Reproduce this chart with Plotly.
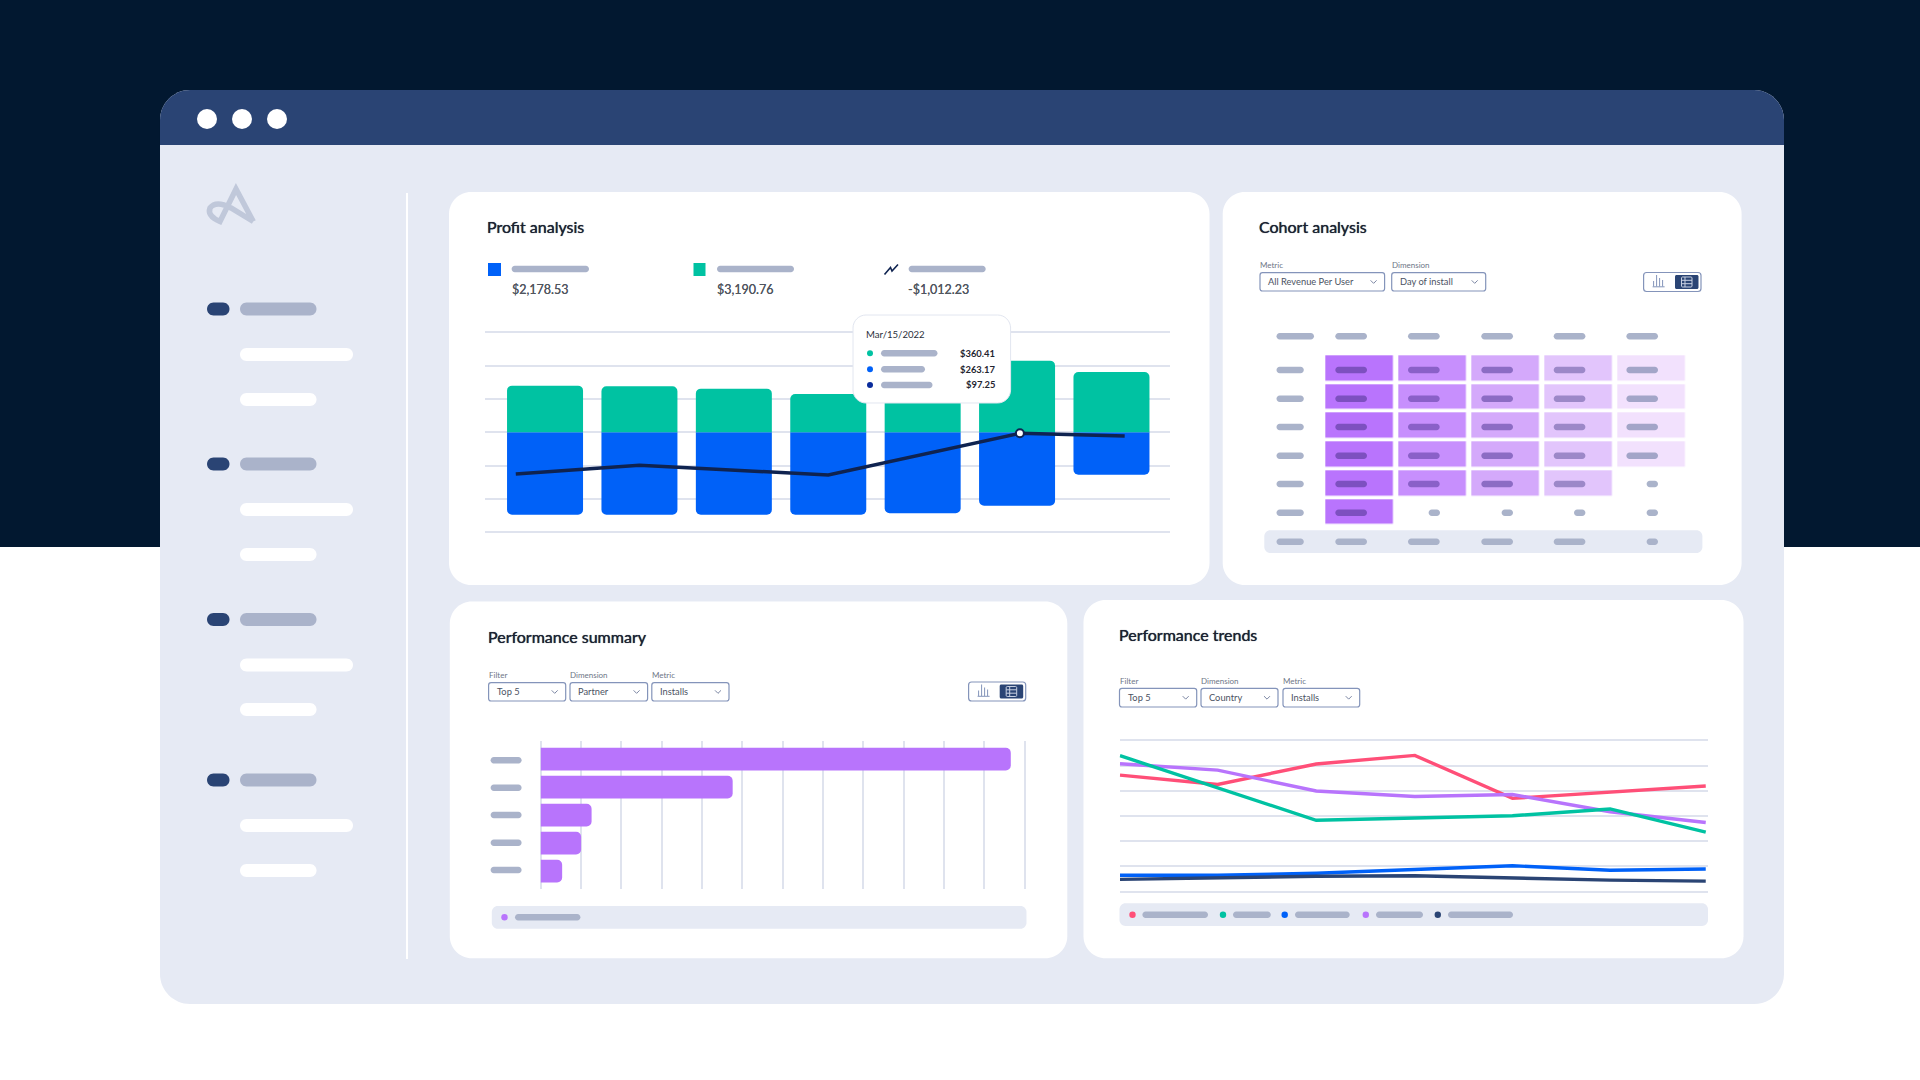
import plotly.graph_objects as go

# ---------- data ----------
profit_x = [0, 1, 2, 3, 4, 5, 6]
profit_green = [700, 690, 655, 575, 590, 1075, 905]
profit_blue = [-1235, -1235, -1235, -1235, -1215, -1100, -635]
net_x = [-0.31, 1, 3, 5.03, 6.14]
net_y = [-625, -495, -640, -15, -55]
marker_x = [5.03]
marker_y = [-15]

cohort_z = [
    [5, 4, 3, 2, 1],
    [5, 4, 3, 2, 1],
    [5, 4, 3, 2, 1],
    [5, 4, 3, 2, 1],
    [5, 4, 3, 2, None],
    [5, None, None, None, None],
]

partner_rows = [0, 1, 2, 3, 4]
partner_installs = [1166, 476, 126, 100, 53]

trend_x = [0, 1, 2.01, 3.02, 4.02, 5.02, 6]
trend_pink = [462, 425, 506, 540, 370, 395, 419]
trend_purple = [507, 482, 399, 377, 385, 317, 274]
trend_green = [539, 410, 283, 292, 301, 328, 236]
trend_blue = [65, 65, 73, 88, 103, 85, 90]
trend_navy = [49, 55, 61, 63, 55, 46, 42]

profit_totals = ["$2,178.53", "$3,190.76", "-$1,012.23"]
tooltip_date = "Mar/15/2022"
tooltip_values = ["$360.41", "$263.17", "$97.25"]

# ---------- style ----------
DARK = "#021830"; NAVY = "#2a4474"; BODY = "#e6eaf4"; PILL = "#aab3ca"
GREEN = "#00c2a2"; BLUE = "#0061f8"; PURPLE = "#b874fc"; PINK = "#ff4f78"
LINE = "#0f2350"; GRID = "#dfe3ee"; BORDER = "#8494ba"
FONT = "Lato"

X = lambda x: x / 1920
Y = lambda y: 1 - y / 1080
shapes = []
annotations = []


def rr(x0, y0, x1, y1, r, fill, line=None, lw=0, layer="above", corners=(1, 1, 1, 1)):
    tl, tr, br, bl = [r * c for c in corners]
    k = 0.45
    p = lambda a, b: f"{X(a):.6f},{Y(b):.6f}"
    d = (f"M{p(x0 + tl, y0)} L{p(x1 - tr, y0)} C{p(x1 - tr * k, y0)} {p(x1, y0 + tr * k)} {p(x1, y0 + tr)} "
         f"L{p(x1, y1 - br)} C{p(x1, y1 - br * k)} {p(x1 - br * k, y1)} {p(x1 - br, y1)} "
         f"L{p(x0 + bl, y1)} C{p(x0 + bl * k, y1)} {p(x0, y1 - bl * k)} {p(x0, y1 - bl)} "
         f"L{p(x0, y0 + tl)} C{p(x0, y0 + tl * k)} {p(x0 + tl * k, y0)} {p(x0 + tl, y0)} Z")
    shapes.append(dict(type="path", xref="paper", yref="paper", path=d, fillcolor=fill,
                       line=dict(color=line or fill, width=lw), layer=layer))


def pill(x0, x1, yc, h=6.4, fill=PILL, layer="above"):
    rr(x0, yc - h / 2, x1, yc + h / 2, h / 2, fill, layer=layer)


def dot(x, y, r, fill, layer="above"):
    shapes.append(dict(type="circle", xref="paper", yref="paper", x0=X(x - r), x1=X(x + r),
                       y0=Y(y + r), y1=Y(y - r), fillcolor=fill, line=dict(width=0), layer=layer))


def stroke(points, color, w, layer="above"):
    d = "M" + " L".join(f"{X(a):.6f},{Y(b):.6f}" for a, b in points)
    shapes.append(dict(type="path", xref="paper", yref="paper", path=d,
                       line=dict(color=color, width=w), layer=layer))


def text(x, y, s, size, color="#1a2232", anchor="left", weight=None, shadow=None):
    dx = -1 if anchor == "left" else 1
    annotations.append(dict(xref="paper", yref="paper", x=X(x + dx), y=Y(y), text=s, showarrow=False,
                            xanchor=anchor, yanchor="middle", align=anchor,
                            font=dict(family=FONT, size=size, color=color, weight=weight,
                                      **({"shadow": shadow} if shadow else {})),
                            borderpad=0))


def title(x, y, s):
    text(x - 0.5, y - 1.5, s, 16, shadow="0 0 0.7px #1a2232")


def dropdown(x0, x1, y0, y1, label, value, label_x=None):
    rr(x0, y0, x1, y1, 2.5, "#ffffff", BORDER, 1.2)
    text(x0, y0 - 7.5, label, 8, "#6e7686")
    text(x0 + 8, (y0 + y1) / 2, value, 9.3, "#4b5262")
    c = x1 - 11; m = (y0 + y1) / 2
    stroke([(c - 3, m - 1.5), (c, m + 1.5), (c + 3, m - 1.5)], "#7b86a3", 1)


def toggle(x0, x1, y0, y1):
    rr(x0, y0, x1, y1, 3, "#ffffff", BORDER, 1.2)
    a0 = x1 - 26
    rr(a0, y0 + 2.5, x1 - 2.5, y1 - 2.5, 1.5, NAVY)
    m = (y0 + y1) / 2
    ix = x0 + 10
    for dx, t in [(0, 3), (3, -3), (6, 0), (9, 2)]:
        stroke([(ix + dx, m + 4.5), (ix + dx, m - 1 + t - 3)], "#8494ba", 1)
    stroke([(ix - 1, m + 4.8), (ix + 11, m + 4.8)], "#8494ba", 1)
    g0, g1 = a0 + 6.5, x1 - 9
    rr(g0, m - 5, g1, m + 5, 1, NAVY, "#c8d0e2", 1)
    for dy in (-1.7, 1.7):
        stroke([(g0, m + dy), (g1, m + dy)], "#c8d0e2", 1)
    stroke([(g0 + 3.5, m - 5), (g0 + 3.5, m + 5)], "#c8d0e2", 1)


# ---------- page + window ----------
rr(-5, -5, 1925, 547, 0, DARK, layer="below")
rr(160, 90, 1784, 1004, 30, BODY, layer="below")
rr(160, 90, 1784, 145, 30, NAVY, layer="below", corners=(1, 1, 0, 0))
for cx in (207, 242, 277):
    dot(cx, 119, 10, "#ffffff", layer="below")
pt = lambda a, b: f"{X(a):.6f},{Y(b):.6f}"
shapes.append(dict(type="path", xref="paper", yref="paper", layer="below",
                   path=(f"M{pt(253.3, 221.5)} L{pt(236, 189)} L{pt(220, 221.5)} "
                         f"Q{pt(207, 216)} {pt(210, 208)} Q{pt(216, 200)} {pt(231, 208)} L{pt(253.3, 221.5)}"),
                   line=dict(color="#c0c8da", width=5.5)))
rr(406, 193, 408, 959, 0, "#ffffff", layer="below")

for y_head, y_a, y_b in [(309, 354.5, 399.5), (464, 509.5, 554.5), (619.5, 665, 709.5), (780, 825.5, 870.5)]:
    pill(207, 229.5, y_head, 13, NAVY, "below")
    pill(240, 316.5, y_head, 13, PILL, "below")
    pill(240, 353, y_a, 13, "#ffffff", "below")
    pill(240, 316.5, y_b, 13, "#ffffff", "below")

# ---------- cards ----------
rr(449, 192, 1209.5, 585, 22, "#ffffff", layer="below")
rr(1222.7, 192, 1741.6, 585, 22, "#ffffff", layer="below")
rr(449.8, 601.5, 1067.3, 958.3, 22, "#ffffff", layer="below")
rr(1083.5, 600, 1743.5, 958.3, 22, "#ffffff", layer="below")

# profit header
title(487, 228, "Profit analysis")
rr(488, 263, 501, 276, 0, BLUE)
pill(511.6, 589, 269)
text(512, 289.8, profit_totals[0], 12.5, "#50565f", shadow="0 0 0.5px #50565f")
rr(693.5, 263, 705.5, 276, 0, GREEN)
pill(717, 794, 269)
text(717, 289.8, profit_totals[1], 12.5, "#50565f", shadow="0 0 0.5px #50565f")
stroke([(884.5, 274.5), (890.5, 267.5), (892, 271), (898, 264.5)], LINE, 1.6)
pill(908.6, 985.7, 269)
text(908, 289.8, profit_totals[2], 12.5, "#50565f", shadow="0 0 0.5px #50565f")

# tooltip
rr(853, 315, 1010.6, 403, 13, "#ffffff", "#e2e6f0", 1)
text(866, 335, tooltip_date, 9.6, "#2b303b")
for yc, col, end, val in zip((353.3, 369.3, 385), (GREEN, BLUE, "#0a2c9c"), (937.5, 925, 932.5), tooltip_values):
    dot(870, yc, 3, col)
    pill(881, end, yc)
    text(995, yc, val, 9.4, "#1f2530", anchor="right", weight=700)

# cohort header
title(1259.5, 228, "Cohort analysis")
dropdown(1260, 1384.6, 272.7, 291, "Metric", "All Revenue Per User")
dropdown(1391.7, 1485.7, 272.7, 291, "Dimension", "Day of install")
toggle(1643.6, 1701, 272.5, 291.5)

col_pills = [(1335.3, 1367), (1408, 1439.7), (1481.3, 1513), (1553.7, 1585.4), (1626.4, 1658)]
small_pills = [None, (1428.6, 1440), (1501.6, 1513), (1574, 1585.4), (1646.6, 1658)]
cell_pill = ["#7d50c0", "#8a60c8", "#8c6cc4", "#9c88c8", "#a3a5c8"]
row_y = [370, 398.7, 427, 455.7, 484, 512.7]
pill(1276.5, 1314, 336.3)
for a, b in col_pills:
    pill(a, b, 336.3)
for r, yc in enumerate(row_y):
    pill(1276.5, 1303.8, yc)
    for c, (a, b) in enumerate(col_pills):
        if cohort_z[r][c] is not None:
            pill(a, b, yc, fill=cell_pill[c])
        else:
            pill(small_pills[c][0], small_pills[c][1], yc)
rr(1264.3, 530.3, 1702.4, 553, 6, BODY)
pill(1276.5, 1303.8, 541.7)
for c, (a, b) in enumerate(col_pills):
    if c < 4:
        pill(a, b, 541.7)
    else:
        pill(small_pills[4][0], small_pills[4][1], 541.7)

# performance summary header
title(488, 637.7, "Performance summary")
dropdown(488.6, 565.7, 682.7, 701, "Filter", "Top 5")
dropdown(570, 647.6, 682.7, 701, "Dimension", "Partner")
dropdown(651.8, 729, 682.7, 701, "Metric", "Installs")
toggle(968.6, 1025.7, 682, 701)
for yc in (760.3, 787.7, 815, 842.7, 870):
    pill(490.6, 521.6, yc)
rr(491.8, 906, 1026.5, 928.7, 6, BODY)
dot(504.5, 917.3, 3.2, PURPLE)
pill(515, 580.4, 917.3)

# performance trends header
title(1119.5, 636, "Performance trends")
dropdown(1119.5, 1196.7, 688.3, 707, "Filter", "Top 5")
dropdown(1201, 1278, 688.3, 707, "Dimension", "Country")
dropdown(1283, 1359.7, 688.3, 707, "Metric", "Installs")
rr(1119.5, 903.3, 1708, 926, 6, BODY)
for cx, col, a, b in [(1132.5, PINK, 1142.4, 1208), (1223, GREEN, 1233, 1270.8), (1284.7, BLUE, 1295, 1349.7),
                      (1365.8, PURPLE, 1376, 1423), (1437.8, NAVY, 1448, 1513)]:
    dot(cx, 914.7, 3.2, col)
    pill(a, b, 914.7)

# ---------- figure ----------
fig = go.Figure()

fig.add_trace(go.Bar(x=profit_x, y=profit_blue, marker=dict(color=BLUE, line=dict(width=0)), width=0.805,
                     xaxis="x", yaxis="y", name="Cost"))
fig.add_trace(go.Bar(x=profit_x, y=profit_green, marker=dict(color=GREEN, line=dict(width=0)), width=0.805,
                     xaxis="x", yaxis="y", name="Revenue"))
fig.add_trace(go.Scatter(x=net_x, y=net_y, mode="lines", line=dict(color=LINE, width=3.4),
                         xaxis="x", yaxis="y", name="Profit"))
fig.add_trace(go.Scatter(x=marker_x, y=marker_y, mode="markers",
                         marker=dict(size=8, color="#ffffff", line=dict(color=LINE, width=2)),
                         xaxis="x", yaxis="y", name="Selected"))

fig.add_trace(go.Heatmap(z=cohort_z, x=[0, 1, 2, 3, 4], y=[0, 1, 2, 3, 4, 5], zmin=1, zmax=5, xgap=5.4, ygap=3.6,
                         showscale=False, hoverongaps=False,
                         colorscale=[[0, "#f2e1fd"], [0.25, "#e2c5fc"], [0.5, "#d4a9fb"], [0.75, "#c78ffd"], [1, "#b974fd"]],
                         xaxis="x2", yaxis="y2"))

fig.add_trace(go.Bar(x=partner_installs, y=partner_rows, orientation="h", width=0.807,
                     marker=dict(color=PURPLE, line=dict(width=0)), xaxis="x3", yaxis="y3", name="Installs"))

for vals, col, nm in [(trend_pink, PINK, "A"), (trend_purple, PURPLE, "D"), (trend_green, GREEN, "B"),
                      (trend_blue, BLUE, "C"), (trend_navy, NAVY, "E")]:
    fig.add_trace(go.Scatter(x=trend_x, y=vals, mode="lines", line=dict(color=col, width=3.4),
                             xaxis="x4", yaxis="y4", name=nm))


def dom(a, b):
    return [a / 1920, b / 1920]


def domy(top, bottom):
    return [1 - bottom / 1080, 1 - top / 1080]


hidden = dict(showticklabels=False, ticks="", zeroline=False, showline=False, showgrid=False)
grid = dict(showticklabels=False, ticks="", zeroline=False, showline=False, showgrid=True,
            gridcolor=GRID, gridwidth=1.5)

fig.update_layout(
    width=1920, height=1080, margin=dict(l=0, r=0, t=0, b=0, pad=0),
    paper_bgcolor="#ffffff", plot_bgcolor="rgba(0,0,0,0)",
    showlegend=False, barmode="relative", barcornerradius=5,
    font=dict(family=FONT),
    shapes=shapes, annotations=annotations,
    xaxis=dict(domain=dom(485, 1170), range=[-0.636, 6.62], **hidden),
    yaxis=dict(domain=domy(330.3, 534.3), range=[-1530, 1530], dtick=500, **grid),
    xaxis2=dict(domain=dom(1323.3, 1688.1), range=[-0.5, 4.5], **hidden),
    yaxis2=dict(domain=domy(354.3, 526.5), range=[5.5, -0.5], **hidden),
    xaxis3=dict(domain=dom(538.8, 1026.5), range=[-4.96, 1204.96], dtick=100, **grid),
    yaxis3=dict(domain=domy(741.3, 889), range=[4.6375, -0.6375], **hidden),
    xaxis4=dict(domain=dom(1119.5, 1708), range=[-0.005, 6.023], **hidden),
    yaxis4=dict(domain=domy(738.3, 893.7), range=[-7.9, 607.9], dtick=100, **grid),
)

fig.write_html("out.html", config=dict(displayModeBar=False),
               post_script="document.body.style.margin='0';document.documentElement.style.overflow='hidden';")
